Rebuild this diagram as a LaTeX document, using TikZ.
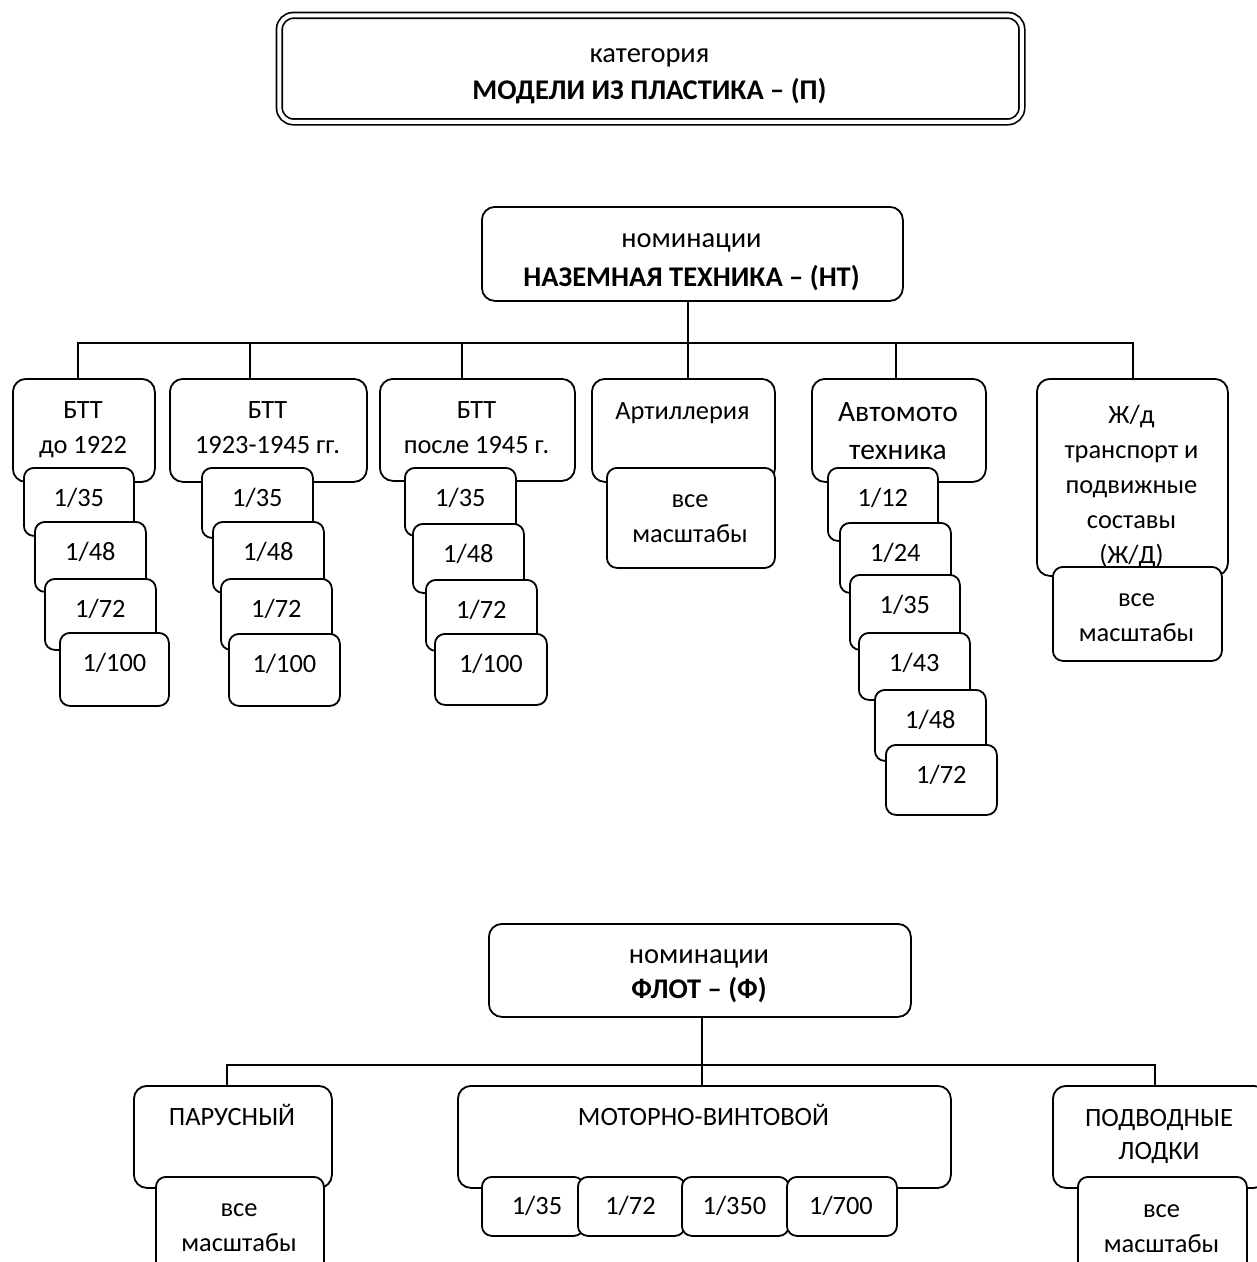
\documentclass[tikz,border=0pt]{standalone}
\usepackage{fontspec}
\setmainfont{Carlito}
\newcommand\mkbox[6][bx]{\node[#1, minimum width={#5-#3}, minimum height={#6-#4}] (#2) at (#3,#4) {};}
\tikzset{
  bx/.style={draw, line width=1.8pt, rounded corners=13pt, fill=white, inner sep=0pt, anchor=north west},
  sc/.style={draw, line width=1.8pt, rounded corners=10pt, fill=white, inner sep=0pt, anchor=north west},
  lbl/.style={font=\fontsize{26.4}{35}\selectfont, align=center, inner sep=0pt, anchor=base},
  big/.style={font=\fontsize{29.5}{38}\selectfont, align=center, inner sep=0pt, anchor=base},
  hd/.style={font=\fontsize{28.5}{37}\selectfont, align=center, inner sep=0pt, anchor=base},
  wire/.style={line width=1.8pt}
}
\begin{document}
\begin{tikzpicture}[x=1pt,y=-1pt]
\useasboundingbox (0,0) rectangle (1257,1262);
% category
\node[draw, double, double distance=4pt, line width=1.7pt, rounded corners=14pt,
      minimum width=742.5, minimum height=106.5, inner sep=0pt, anchor=north west] (cat) at (278.5,14.5) {};
\node[hd] (catt) at (649.5,99) {категория\\\textbf{МОДЕЛИ ИЗ ПЛАСТИКА – (П)}};
% ground vehicles
\mkbox{nt}{481}{206}{902}{300}
\node[hd] (ntt) at (691.5,286) {номинации\\[2pt]\textbf{НАЗЕМНАЯ ТЕХНИКА – (НТ)}};
\coordinate (j1) at (78,343);
\coordinate (j2) at (250,343);
\coordinate (j3) at (462,343);
\coordinate (j4) at (688,343);
\coordinate (j5) at (896,343);
\coordinate (j6) at (1133,343);
\mkbox{b1}{12}{378}{154}{481}
\mkbox{b2}{169}{378}{366}{481}
\mkbox{b3}{379}{378}{574}{480}
\mkbox{art}{591}{378}{774}{481}
\mkbox{avto}{811}{378}{985}{481}
\mkbox{zd}{1036}{378}{1227}{575}
\draw[wire] (b1.north -| j1) -- (j1) -- (j6) -- (zd.north -| j6);
\draw[wire] (nt.south -| j4) -- (art.north -| j4);
\draw[wire] (b2.north -| j2) -- (j2);
\draw[wire] (b3.north -| j3) -- (j3);
\draw[wire] (avto.north -| j5) -- (j5);
\node[lbl] (b1t) at (83,453) {БТТ\\до 1922};
\node[lbl] (b2t) at (267.5,453) {БТТ\\1923-1945 гг.};
\node[lbl] (b3t) at (476.5,453) {БТТ\\после 1945 г.};
\node[lbl] (artt) at (682.5,419) {Артиллерия};
\node[big] (avtot) at (898,459) {Автомото\\техника};
\node[lbl] (zdt) at (1131.5,563) {Ж/д\\транспорт и\\подвижные\\составы\\(Ж/Д)};
% BTT 1 scales
\mkbox[sc]{b1a}{23}{467}{133}{535}
\mkbox[sc]{b1b}{34}{521}{145}{591}
\mkbox[sc]{b1c}{44}{578}{155}{649}
\mkbox[sc]{b1d}{59}{632}{168}{705}
\node[lbl] at ([yshift=-39pt]b1a.north) (b1at) {1/35};
\node[lbl] at ([yshift=-39pt]b1b.north) (b1bt) {1/48};
\node[lbl] at ([yshift=-39pt]b1c.north) (b1ct) {1/72};
\node[lbl] at ([yshift=-39pt]b1d.north) (b1dt) {1/100};
% BTT 2 scales
\mkbox[sc]{b2a}{201}{467}{312}{537}
\mkbox[sc]{b2b}{212}{521}{323}{592}
\mkbox[sc]{b2c}{220}{578}{331}{649}
\mkbox[sc]{b2d}{228}{633}{339}{705}
\node[lbl] at ([yshift=-39pt]b2a.north) (b2at) {1/35};
\node[lbl] at ([yshift=-39pt]b2b.north) (b2bt) {1/48};
\node[lbl] at ([yshift=-39pt]b2c.north) (b2ct) {1/72};
\node[lbl] at ([yshift=-39pt]b2d.north) (b2dt) {1/100};
% BTT 3 scales
\mkbox[sc]{b3a}{404}{467}{515}{535}
\mkbox[sc]{b3b}{412}{523}{523}{592}
\mkbox[sc]{b3c}{425}{579}{536}{650}
\mkbox[sc]{b3d}{434}{633}{546}{704}
\node[lbl] at ([yshift=-39pt]b3a.north) (b3at) {1/35};
\node[lbl] at ([yshift=-39pt]b3b.north) (b3bt) {1/48};
\node[lbl] at ([yshift=-39pt]b3c.north) (b3ct) {1/72};
\node[lbl] at ([yshift=-39pt]b3d.north) (b3dt) {1/100};
% artillery
\mkbox[sc]{arta}{606}{467}{774}{567}
\node[lbl] at (690,542) (artat) {все\\масштабы};
% auto-moto
\mkbox[sc]{ava}{827}{467}{937}{540}
\mkbox[sc]{avb}{839}{522}{950}{592}
\mkbox[sc]{avc}{849}{574}{959}{649}
\mkbox[sc]{avd}{858}{632}{969}{699}
\mkbox[sc]{ave}{874}{689}{985}{760}
\mkbox[sc]{avf}{885}{744}{996}{814}
\node[lbl] at ([yshift=-39pt]ava.north) (avat) {1/12};
\node[lbl] at ([yshift=-39pt]avb.north) (avbt) {1/24};
\node[lbl] at ([yshift=-39pt]avc.north) (avct) {1/35};
\node[lbl] at ([yshift=-39pt]avd.north) (avdt) {1/43};
\node[lbl] at ([yshift=-39pt]ave.north) (avet) {1/48};
\node[lbl] at ([yshift=-39pt]avf.north) (avft) {1/72};
% railway
\mkbox[sc]{zda}{1052}{566}{1221}{660}
\node[lbl] at (1136.5,641) (zdat) {все\\масштабы};
% fleet
\mkbox{fl}{488}{923}{910}{1016}
\node[hd] (flt) at (699,998) {номинации\\[-2pt]\textbf{ФЛОТ – (Ф)}};
\coordinate (f1) at (227,1065);
\coordinate (f2) at (702,1065);
\coordinate (f3) at (1155,1065);
\mkbox{par}{133}{1085}{331}{1187}
\mkbox{mot}{457}{1085}{950}{1187}
\mkbox{pod}{1052}{1085}{1266}{1187}
\draw[wire] (par.north -| f1) -- (f1) -- (f3) -- (pod.north -| f3);
\draw[wire] (fl.south -| f2) -- (mot.north -| f2);
\node[lbl] (part) at (232,1125) {ПАРУСНЫЙ};
\node[lbl] (mott) at (703.5,1125) {МОТОРНО-ВИНТОВОЙ};
\node[lbl] (podt) at (1159,1159) {ПОДВОДНЫЕ\\[-2pt]ЛОДКИ};
\mkbox[sc]{para}{155}{1176}{323}{1285}
\node[lbl] at (239,1251) (parat) {все\\масштабы};
\mkbox[sc]{ma}{481}{1176}{583}{1235}
\mkbox[sc]{mb}{577}{1176}{684}{1235}
\mkbox[sc]{mc}{681}{1176}{788}{1235}
\mkbox[sc]{md}{786}{1176}{896}{1235}
\node[lbl] at (537,1214) (mat) {1/35};
\node[lbl] at (630.5,1214) (mbt) {1/72};
\node[lbl] at (734.5,1214) (mct) {1/350};
\node[lbl] at (841,1214) (mdt) {1/700};
\mkbox[sc]{poda}{1077}{1176}{1246}{1285}
\node[lbl] at (1161.5,1252) (podat) {все\\масштабы};
\end{tikzpicture}
\end{document}
